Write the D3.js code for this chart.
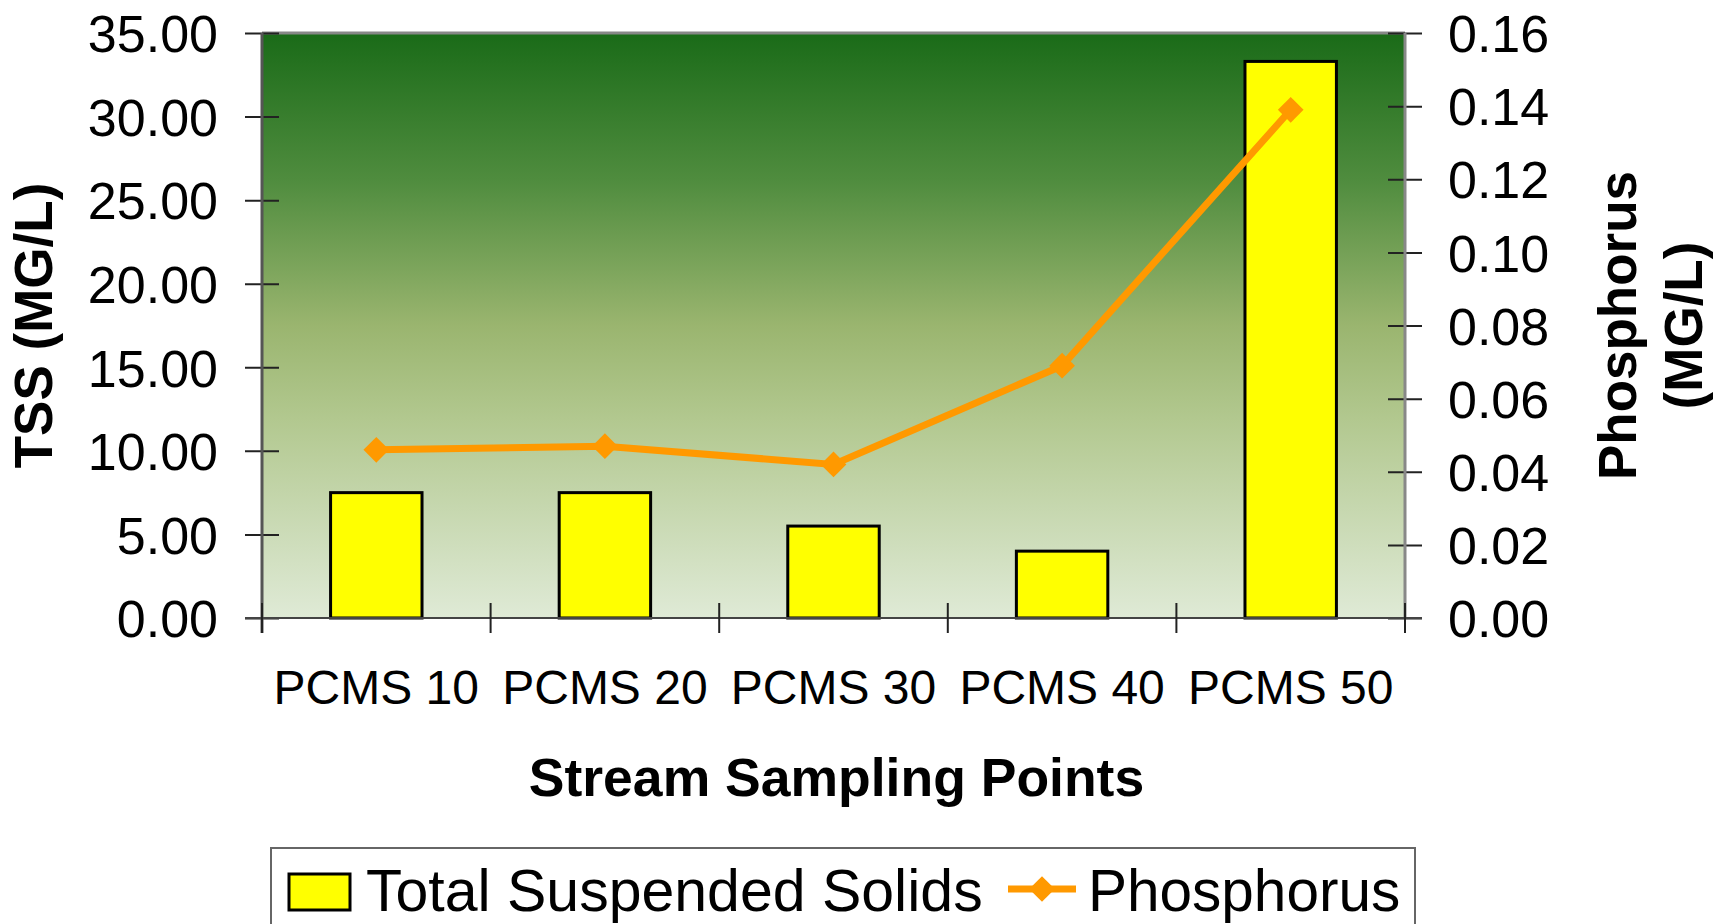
<!DOCTYPE html>
<html>
<head>
<script src="https://cdnjs.cloudflare.com/ajax/libs/d3/7.8.5/d3.min.js"></script>
</head>
<style>
body { margin: 0; background: #fff; }
text { font-family: "Liberation Sans", Arial, sans-serif; fill: #000; }
</style>
<body>
<svg id="chart"></svg>
<script>
// data
const sites = ['PCMS 10', 'PCMS 20', 'PCMS 30', 'PCMS 40', 'PCMS 50'];
const tss = [7.5, 7.5, 5.5, 4.0, 33.3];
const phosphorus = [0.046, 0.047, 0.042, 0.069, 0.139];
const tssTicks = [0, 5, 10, 15, 20, 25, 30, 35];
const phosTicks = [0, 0.02, 0.04, 0.06, 0.08, 0.10, 0.12, 0.14, 0.16];

const W = 1721, H = 924;
const plot = { left: 262, right: 1405, top: 33, bottom: 618 };

const svg = d3.select('#chart').attr('width', W).attr('height', H);

const defs = svg.append('defs');
const grad = defs.append('linearGradient')
	.attr('id', 'bg-grad')
	.attr('x1', 0).attr('y1', 0).attr('x2', 0).attr('y2', 1);
[[0, '#1a6b18'], [0.25, '#4f8c3e'], [0.5, '#9ab56f'], [0.66, '#b2c88f'], [1, '#dfead6']]
	.forEach(s => grad.append('stop').attr('offset', s[0]).attr('stop-color', s[1]));

const x = d3.scaleBand().domain(sites).range([plot.left, plot.right]).paddingInner(0).paddingOuter(0);
const yL = d3.scaleLinear().domain([0, 35]).range([plot.bottom, plot.top]);
const yR = d3.scaleLinear().domain([0, 0.16]).range([plot.bottom, plot.top]);

// plot background
svg.append('rect')
	.attr('x', plot.left).attr('y', plot.top)
	.attr('width', plot.right - plot.left).attr('height', plot.bottom - plot.top)
	.attr('fill', 'url(#bg-grad)');
svg.append('line')
	.attr('x1', plot.left).attr('x2', plot.right)
	.attr('y1', plot.top).attr('y2', plot.top)
	.attr('stroke', '#888').attr('stroke-width', 3);

// bars
const barW = x.bandwidth() * 0.4;
svg.append('g').selectAll('rect').data(tss).join('rect')
	.attr('x', (d, i) => x(sites[i]) + (x.bandwidth() - barW) / 2)
	.attr('y', d => yL(d))
	.attr('width', barW)
	.attr('height', d => yL(0) - yL(d))
	.attr('fill', '#ffff00')
	.attr('stroke', '#000')
	.attr('stroke-width', 3);

// axes
const TICK = 17;
const leftAxis = svg.append('g')
	.attr('transform', `translate(${plot.left},0)`)
	.call(d3.axisLeft(yL).tickValues(tssTicks).tickSize(TICK).tickPadding(27).tickFormat(d3.format('.2f')));
leftAxis.selectAll('.tick line').attr('x2', -TICK).attr('x1', TICK);
leftAxis.select('.domain').remove();
leftAxis.selectAll('.tick text').style('font-size', '52px').attr('dy', '0.36em');
leftAxis.selectAll('line').attr('stroke', '#222').attr('stroke-width', 2);

const rightAxis = svg.append('g')
	.attr('transform', `translate(${plot.right},0)`)
	.call(d3.axisRight(yR).tickValues(phosTicks).tickSize(TICK).tickPadding(26).tickFormat(d3.format('.2f')));
rightAxis.selectAll('.tick line').attr('x1', -TICK).attr('x2', TICK);
rightAxis.select('.domain').remove();
rightAxis.selectAll('.tick text').style('font-size', '52px').attr('dy', '0.36em');
rightAxis.selectAll('line').attr('stroke', '#222').attr('stroke-width', 2);

// axis lines
svg.append('line')
	.attr('x1', plot.left).attr('x2', plot.left)
	.attr('y1', plot.top).attr('y2', plot.bottom + 15)
	.attr('stroke', '#555').attr('stroke-width', 3);
svg.append('line')
	.attr('x1', plot.right).attr('x2', plot.right)
	.attr('y1', plot.top).attr('y2', plot.bottom)
	.attr('stroke', '#888').attr('stroke-width', 3);

const bottomAxis = svg.append('g')
	.attr('transform', `translate(0,${plot.bottom})`)
	.call(d3.axisBottom(x).tickSize(0).tickPadding(52));
bottomAxis.select('.domain').remove();
bottomAxis.selectAll('.tick text').style('font-size', '48px').attr('dy', '0.71em');

svg.append('line')
	.attr('x1', plot.left - TICK).attr('x2', plot.right + TICK)
	.attr('y1', plot.bottom).attr('y2', plot.bottom)
	.attr('stroke', '#444').attr('stroke-width', 2);
const bounds = sites.map(s => x(s)).concat([x(sites[sites.length - 1]) + x.bandwidth()]);
svg.append('g').selectAll('line').data(bounds).join('line')
	.attr('x1', d => d).attr('x2', d => d)
	.attr('y1', plot.bottom - 15).attr('y2', plot.bottom + 15)
	.attr('stroke', '#222').attr('stroke-width', 2);

// phosphorus line
const line = d3.line()
	.x((d, i) => x(sites[i]) + x.bandwidth() / 2)
	.y(d => yR(d));
svg.append('path')
	.datum(phosphorus)
	.attr('d', line)
	.attr('fill', 'none')
	.attr('stroke', '#ff9900')
	.attr('stroke-width', 7);
svg.append('g').selectAll('path').data(phosphorus).join('path')
	.attr('transform', (d, i) => `translate(${x(sites[i]) + x.bandwidth() / 2},${yR(d)}) rotate(45)`)
	.attr('d', d3.symbol().type(d3.symbolSquare).size(330))
	.attr('fill', '#ff9900');

// axis titles
svg.append('text')
	.attr('transform', `translate(52,${(plot.top + plot.bottom) / 2}) rotate(-90)`)
	.attr('text-anchor', 'middle')
	.style('font-size', '53px').style('font-weight', 'bold')
	.text('TSS (MG/L)');
const rt = svg.append('text')
	.attr('transform', `translate(1636,${(plot.top + plot.bottom) / 2}) rotate(-90)`)
	.attr('text-anchor', 'middle')
	.style('font-size', '53px').style('font-weight', 'bold');
rt.append('tspan').attr('x', 0).attr('dy', 0).text('Phosphorus');
rt.append('tspan').attr('x', 0).attr('dy', 66).text('(MG/L)');

svg.append('text')
	.attr('x', (plot.left + plot.right) / 2 + 3).attr('y', 796)
	.attr('text-anchor', 'middle')
	.style('font-size', '53.5px').style('font-weight', 'bold')
	.text('Stream Sampling Points');

// legend
const lg = svg.append('g');
lg.append('rect')
	.attr('x', 271).attr('y', 848).attr('width', 1144).attr('height', 100)
	.attr('fill', '#fff').attr('stroke', '#666').attr('stroke-width', 2);
lg.append('rect')
	.attr('x', 289).attr('y', 874).attr('width', 61).attr('height', 36)
	.attr('fill', '#ffff00').attr('stroke', '#000').attr('stroke-width', 3);
lg.append('text').attr('x', 366).attr('y', 911).style('font-size', '59px').text('Total Suspended Solids');
lg.append('line')
	.attr('x1', 1008).attr('x2', 1076).attr('y1', 889).attr('y2', 889)
	.attr('stroke', '#ff9900').attr('stroke-width', 7);
lg.append('path')
	.attr('transform', 'translate(1042,889) rotate(45)')
	.attr('d', d3.symbol().type(d3.symbolSquare).size(330))
	.attr('fill', '#ff9900');
lg.append('text').attr('x', 1088).attr('y', 911).style('font-size', '58.5px').text('Phosphorus');
</script>
</body>
</html>
